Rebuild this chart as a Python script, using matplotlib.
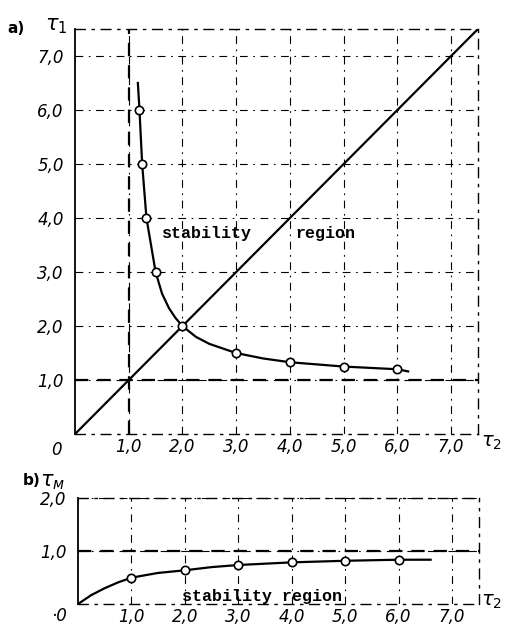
import matplotlib
matplotlib.use("Agg")
import matplotlib.pyplot as plt

# (a) tau1 against tau2: boundary curve
t2_pts = [1.2, 1.25, 1.33, 1.5, 2.0, 3.0, 4.0, 5.0, 6.0]
t1_pts = [6.0, 5.0, 4.0, 3.0, 2.0, 1.5, 1.33, 1.25, 1.2]
# curve drawn through the points, with its ends and a few bends
t2_curve = [1.17, 1.2, 1.25, 1.33, 1.5, 1.62, 1.75, 1.87, 2.0, 2.25, 2.5, 3.0, 3.5, 4.0, 5.0, 6.0, 6.2]
t1_curve = [6.5, 6.0, 5.0, 4.0, 3.0, 2.6, 2.33, 2.15, 2.0, 1.8, 1.67, 1.5, 1.4, 1.33, 1.25, 1.2, 1.16]
diag = [0, 7.5]

# (b) tau_m against tau2
tb_pts = [1.0, 2.0, 3.0, 4.0, 5.0, 6.0]
tm_pts = [0.5, 0.64, 0.74, 0.79, 0.82, 0.84]
tb_curve = [0.0, 0.25, 0.5, 0.75, 1.0, 1.5, 2.0, 2.5, 3.0, 4.0, 5.0, 6.0, 6.6]
tm_curve = [0.0, 0.17, 0.3, 0.41, 0.5, 0.59, 0.64, 0.7, 0.74, 0.79, 0.82, 0.84, 0.84]

xticks = [1, 2, 3, 4, 5, 6, 7]
xlabels = ["1,0", "2,0", "3,0", "4,0", "5,0", "6,0", "7,0"]
ylabels_a = ["1,0", "2,0", "3,0", "4,0", "5,0", "6,0", "7,0"]
ylabels_b = ["1,0", "2,0"]

tick_font = dict(family=["Liberation Sans Narrow", "DejaVu Sans"], style="italic", size=12)
label_font = dict(family=["Liberation Mono", "DejaVu Sans Mono"], weight="bold", size=12)
dashdot = (0, (7, 5, 1.5, 5))
heavy = (0, (6, 4))

fig = plt.figure(figsize=(5.05, 6.30), dpi=100)
ax1 = fig.add_axes([0.1485, 0.311, 0.798, 0.643])
ax2 = fig.add_axes([0.154, 0.041, 0.794, 0.168])


def frame(ax, ymax, yticks, ylabels):
    ax.set_xlim(0, 7.5)
    ax.set_ylim(0, ymax)
    for v in xticks:
        ax.axvline(v, color="k", lw=0.8, ls=dashdot, zorder=1)
    for v in yticks:
        ax.axhline(v, color="k", lw=0.8, ls=dashdot, zorder=1)
    for side in ["top", "right", "bottom"]:
        ax.spines[side].set_linestyle(dashdot)
        ax.spines[side].set_linewidth(1.0)
    ax.spines["left"].set_linewidth(1.3)
    ax.tick_params(length=0, pad=3)
    ax.tick_params(axis="y", pad=8)
    ax.set_xticks(xticks)
    ax.set_xticklabels(xlabels, **tick_font)
    ax.set_yticks(yticks)
    ax.set_yticklabels(ylabels, **tick_font)


frame(ax1, 7.5, [1, 2, 3, 4, 5, 6, 7], ylabels_a)
ax1.axvline(1, color="k", lw=1.6, ls=heavy, zorder=2)
ax1.axhline(1, color="k", lw=1.6, ls=heavy, zorder=2)
ax1.plot(diag, diag, color="k", lw=1.6, zorder=3)
ax1.plot(t2_curve, t1_curve, color="k", lw=1.6, zorder=3)
ax1.plot(t2_pts, t1_pts, "o", ms=6, mfc="white", mec="k", mew=1.2, zorder=4)
ax1.text(2.45, 3.72, "stability", ha="center", va="center", **label_font)
ax1.text(4.67, 3.72, "region", ha="center", va="center", **label_font)
ax1.text(-0.35, -0.12, "0", ha="center", va="top", **tick_font)
ax1.text(7.55, -0.15, r"$\tau_2$", ha="left", va="center", fontsize=14)
fig.text(0.015, 0.955, "a)", fontsize=11, weight="bold", va="center")
fig.text(0.09, 0.958, r"$\tau_1$", fontsize=15, va="center")

frame(ax2, 2.0, [1, 2], ylabels_b)
ax2.axhline(1, color="k", lw=1.6, ls=heavy, zorder=2)
ax2.plot(tb_curve, tm_curve, color="k", lw=1.6, zorder=3)
ax2.plot(tb_pts, tm_pts, "o", ms=6, mfc="white", mec="k", mew=1.2, zorder=4)
ax2.text(3.44, 0.14, "stability region", ha="center", va="center", **label_font)
ax2.text(-0.35, -0.05, "·0", ha="center", va="top", **tick_font)
ax2.text(7.55, 0.05, r"$\tau_2$", ha="left", va="center", fontsize=14)
fig.text(0.045, 0.237, "b)", fontsize=11, weight="bold", va="center")
fig.text(0.08, 0.235, r"$\tau_{м}$", fontsize=15, va="center")

fig.savefig("out.png", dpi=100)
